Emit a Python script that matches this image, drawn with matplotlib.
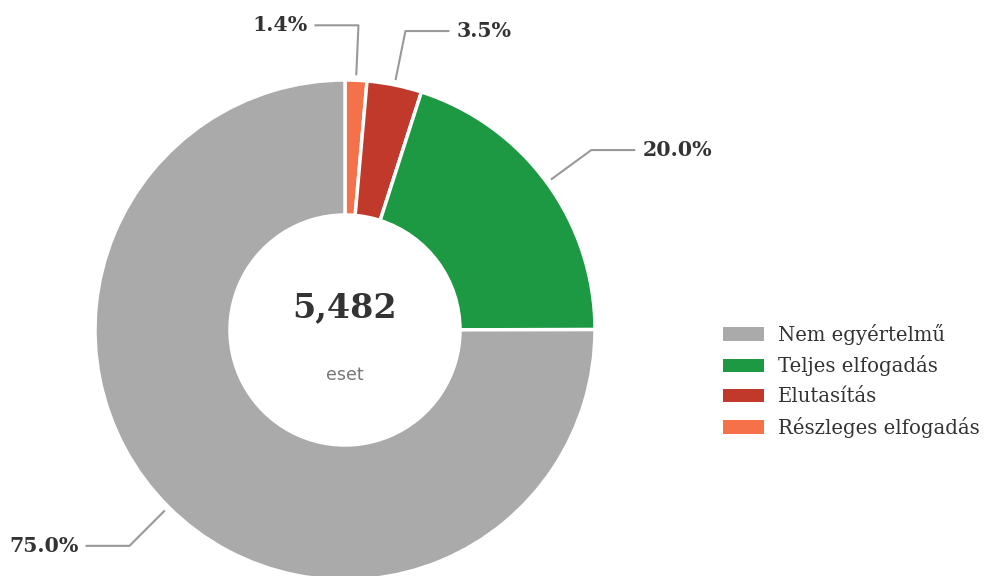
import numpy as np
import matplotlib
matplotlib.use("Agg")
import matplotlib.pyplot as plt
from matplotlib.patches import Patch

# data (legend order)
labels = ["Nem egyértelmű", "Teljes elfogadás", "Elutasítás", "Részleges elfogadás"]
counts = [4113, 1098, 194, 77]
colors = ["#aaaaaa", "#1d9843", "#c0392b", "#f4714a"]
total_label = "5,482"
sub_label = "eset"

W, H = 986, 576
fig = plt.figure(figsize=(W / 100, H / 100), dpi=100)
ax = fig.add_axes([0, 0, 1, 1])

cx, cy = 345, H - 330
R, r_in = 250, 115

# pie drawn clockwise from 12 o'clock, smallest first
vals = counts[::-1]
cols = colors[::-1]
wedges, _ = ax.pie(vals, colors=cols, startangle=90, counterclock=False,
                   radius=R, center=(cx, cy), frame=True,
                   wedgeprops=dict(width=R - r_in, edgecolor="white", linewidth=2.5))
ax.set_xlim(0, W)
ax.set_ylim(0, H)
ax.set_aspect("equal")
ax.axis("off")

total = sum(vals)
for w, v in zip(wedges, vals):
    ang = np.deg2rad((w.theta1 + w.theta2) / 2)
    x0, y0 = cx + 1.02 * R * np.cos(ang), cy + 1.02 * R * np.sin(ang)
    x1, y1 = cx + 1.22 * R * np.cos(ang), cy + 1.22 * R * np.sin(ang)
    side = 1 if np.cos(ang) >= 0 else -1
    if abs(np.cos(ang)) < 0.06:
        side = -1
    x2 = x1 + side * 44
    ax.plot([x0, x1, x2], [y0, y1, y1], color="#999999", lw=1.5,
            solid_capstyle="butt")
    ax.text(x2 + side * 7, y1, f"{100 * v / total:.1f}%",
            ha="left" if side > 0 else "right", va="center",
            fontsize=14.8, fontweight="bold", family="DejaVu Serif",
            color="#333333")

ax.text(cx, cy + 22, total_label, ha="center", va="center", fontsize=24,
        fontweight="bold", family="DejaVu Serif", color="#333333")
ax.text(cx, cy - 45, sub_label, ha="center", va="center", fontsize=12.5,
        family="DejaVu Sans", color="#777777")

handles = [Patch(facecolor=c, edgecolor="none") for c in colors]
fig.legend(handles, labels, loc="upper left", bbox_to_anchor=(0.7333, 0.438),
           frameon=False, prop=dict(family="DejaVu Serif", size=14.1),
           handlelength=2.1, handleheight=0.7, handletextpad=0.7,
           labelspacing=0.55, borderpad=0, borderaxespad=0,
           labelcolor="#333333")

fig.savefig("out.png", dpi=100)
